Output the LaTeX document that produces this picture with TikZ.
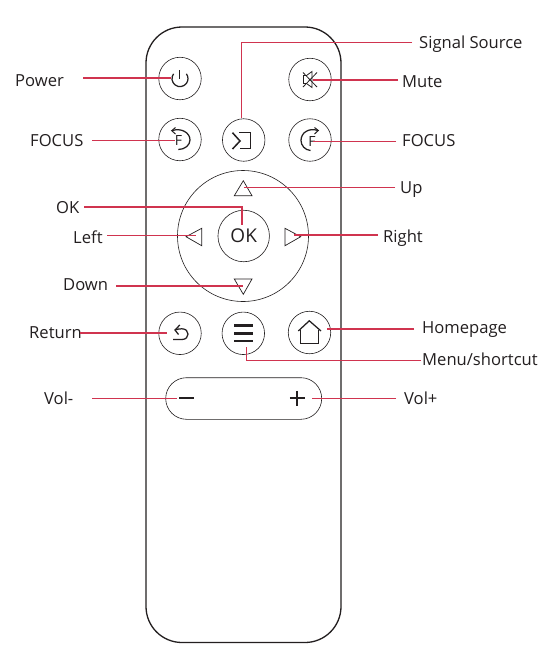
\documentclass[tikz,border=0pt]{standalone}
\usepackage{fontspec}
\setmainfont{Open Sans}
\definecolor{lead}{HTML}{D0344F}
\definecolor{ink}{HTML}{231F20}
\tikzset{
 x=1pt,y=-1pt,
 body/.style={draw=ink,line width=1.3pt,rounded corners=36pt},
 btn/.style={circle,draw=ink,line width=0.6pt,minimum size=42.5pt,inner sep=0pt},
 tri/.style={draw=ink,line width=0.7pt,line join=miter},
 icon/.style={draw=ink,line width=1.25pt},
 leader/.style={draw=lead,line width=1.25pt},
 lbl/.style={anchor=west,inner sep=0pt,text=ink,text height=11.5pt,text depth=0pt,yshift=-0.5pt,font=\fontsize{16.6pt}{18pt}\selectfont},
 fmark/.style={inner sep=0pt,text=ink,font=\fontsize{14pt}{15pt}\selectfont},
}
\begin{document}
\begin{tikzpicture}
\useasboundingbox (0,0) rectangle (545,657);
\fill[white] (0,0) rectangle (545,657);
\draw[body] (146,27) rectangle (341,642.5);
% buttons
\node[btn] (power) at (180,78.5) {};
\node[btn] (mute) at (310,79.5) {};
\node[btn] (focusL) at (180,139.5) {};
\node[btn] (source) at (243.7,140) {};
\node[btn] (focusR) at (310,140) {};
\node[btn] (ret) at (180,333.3) {};
\node[btn] (menu) at (243.3,333.3) {};
\node[btn] (home) at (309.5,332.5) {};
\node[circle,draw=ink,line width=0.6pt,minimum size=131pt,inner sep=0pt] (pad) at (243,236) {};
\node[circle,draw=ink,line width=0.6pt,minimum size=51.5pt,inner sep=0pt,font=\fontsize{19pt}{21pt}\selectfont,text=ink] (ok) at (243.7,236) {OK};
\draw[rounded corners=20.8pt,draw=ink,line width=0.6pt] (165.7,377.7) rectangle (321.7,419.3);
% arrows on pad
\draw[tri] (243.3,180.7) -- (234.3,195.7) -- (252,195.7) -- cycle;
\draw[tri] (186,236.7) -- (201.7,228.3) -- (201.7,245.7) -- cycle;
\draw[tri] (300.7,236.7) -- (285,228.3) -- (285,245.7) -- cycle;
\draw[tri] (243.3,294.3) -- (234.3,279) -- (252,279) -- cycle;
% power icon
\draw[icon] (173.6,73.8) arc[start angle=217,end angle=-37,radius=8,y=-1pt];
\draw[icon] (179.7,70) -- (179.7,79);
% mute icon
\draw[draw=ink,line width=0.8pt] (303.5,75.5) -- (306.5,75.5) -- (312,71.5) -- (312,87.5) -- (306.5,83.5) -- (303.5,83.5) -- cycle;
\draw[draw=ink,line width=0.8pt] (303,72.5) -- (317,87) (303,87) -- (317,72.5);
% focus icons
\draw[icon] (172,130.7) .. controls (181,127.5) and (190,132.5) .. (190,140) .. controls (190,145) and (185,149.5) .. (178.3,149.5);
\draw[icon,line width=1pt] (175.5,127.5) -- (171.7,130.7) -- (175.5,134);
\node[fmark] (fL) at (178.5,140.5) {F};
\draw[icon] (318,130.5) .. controls (309,127.5) and (301,132.5) .. (301,140.5) .. controls (301,145.5) and (305,150) .. (310.5,150.5);
\draw[icon,line width=1pt] (314.5,127.5) -- (318.3,130.5) -- (314.5,134);
\node[fmark] (fR) at (312,141) {F};
% source icon
\draw[icon,line width=1.5pt] (232.5,132.7) -- (240,141) -- (232.5,149);
\draw[icon,line width=1.5pt] (239,132.7) -- (250.7,132.7) -- (250.7,148.5) -- (240,148.5);
% return icon
\draw[icon] (175,330) .. controls (177,329) and (180,328.8) .. (182,328.8) .. controls (190,328.8) and (190,339.5) .. (182,339.5) -- (173,339.5);
\draw[icon] (179.8,325) -- (175,330) -- (178.5,334.5);
% menu icon
\draw[draw=ink,line width=2.8pt] (234,325.7) -- (253.3,325.7) (234,333.3) -- (253.3,333.3) (234,341) -- (253.3,341);
% home icon
\draw[icon] (298.3,331) -- (309.3,320.8) -- (321,331);
\draw[icon] (300.7,329.5) -- (300.7,343.3) -- (318.3,343.3) -- (318.3,329.5);
% vol icons
\draw[draw=ink,line width=1.7pt] (179.3,398.3) -- (194,398.3);
\draw[draw=ink,line width=1.7pt] (289.8,398.3) -- (304.8,398.3) (297.3,390.8) -- (297.3,405.8);
% labels
\node[lbl] (tPower) at (15,80.5) {Power};
\node[lbl] (tFocL) at (30,140) {FOCUS};
\node[lbl] (tOK) at (56,207) {OK};
\node[lbl] (tLeft) at (73,237) {Left};
\node[lbl] (tDown) at (63,284) {Down};
\node[lbl] (tRet) at (29,332) {Return};
\node[lbl] (tVolM) at (44,398) {Vol-};
\node[lbl] (tSrc) at (419,42) {Signal Source};
\node[lbl] (tMute) at (402,81) {Mute};
\node[lbl] (tFocR) at (402,140) {FOCUS};
\node[lbl] (tUp) at (400,187) {Up};
\node[lbl] (tRight) at (383,236) {Right};
\node[lbl] (tHome) at (422,327.5) {Homepage};
\node[lbl] (tMenu) at (422,359.5) {Menu/shortcut};
\node[lbl] (tVolP) at (404,398.5) {Vol+};
% connector ends
\coordinate (a1) at (83,78); \coordinate (b1) at (171,78);
\coordinate (a2) at (398,80); \coordinate (b2) at (313,80);
\coordinate (a3) at (92,140.5); \coordinate (b3) at (175,140.5);
\coordinate (a4) at (396,141.5); \coordinate (b4) at (313,141.5);
\coordinate (a5) at (412,42.7); \coordinate (b5) at (241.7,118);
\coordinate (a6) at (395,187.5); \coordinate (b6) at (244,187.5);
\coordinate (a7) at (84,207); \coordinate (b7) at (242,225);
\coordinate (a8) at (107,235.5); \coordinate (b8) at (196,235.5);
\coordinate (a9) at (378,235); \coordinate (b9) at (294,235);
\coordinate (a10) at (116,286); \coordinate (b10) at (243,286);
\coordinate (a11) at (80,333); \coordinate (b11) at (167,333);
\coordinate (a12) at (414,329); \coordinate (b12) at (327,329);
\coordinate (a13) at (421,360.7); \coordinate (b13) at (246.7,347);
\coordinate (a14) at (92,398.3); \coordinate (b14) at (176.7,398.3);
\coordinate (a15) at (396,398.3); \coordinate (b15) at (312,398.3);
\draw[leader] (a1)--(b1);
\draw[leader] (a2)--(b2);
\draw[leader] (a3)--(b3);
\draw[leader] (a4)--(b4);
\draw[leader] (a5)-|(b5);
\draw[leader] (a6)--(b6);
\draw[leader] (a7)-|(b7);
\draw[leader] (a8)--(b8);
\draw[leader] (a9)--(b9);
\draw[leader] (a10)--(b10);
\draw[leader] (a11)--(b11);
\draw[leader] (a12)--(b12);
\draw[leader] (a13)-|(b13);
\draw[leader] (a14)--(b14);
\draw[leader] (a15)--(b15);
\end{tikzpicture}
\end{document}
